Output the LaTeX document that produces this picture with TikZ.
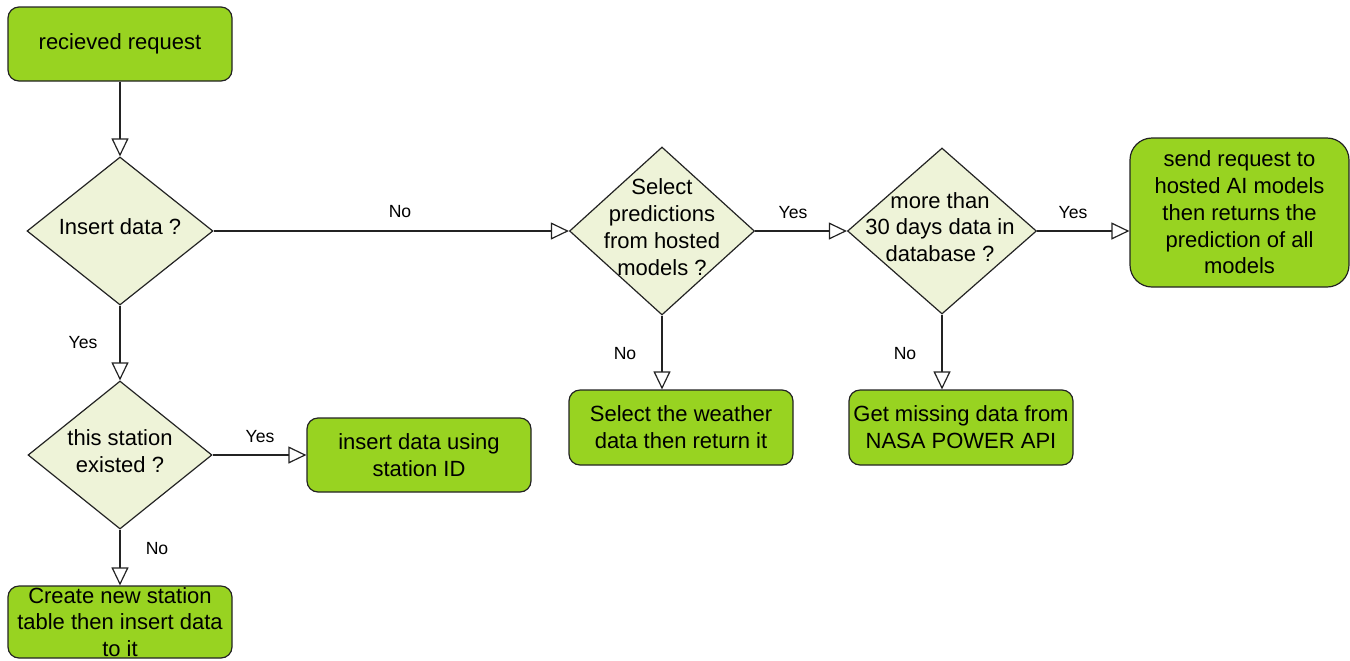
\documentclass[tikz,border=0pt]{standalone}
\usepackage{fontspec}
\setmainfont{Liberation Sans}
\usetikzlibrary{shapes.geometric,arrows.meta}

\definecolor{actfill}{RGB}{152,211,33}
\definecolor{decfill}{RGB}{238,243,216}
\definecolor{edgeline}{RGB}{35,35,35}

\tikzset{
  every node/.style={font=\fontsize{11}{13.4}\selectfont, text=black},
  action/.style={draw=edgeline, line width=0.6pt, fill=actfill, rounded corners=5.5pt,
    align=center, inner sep=0pt, minimum width=112pt, minimum height=37pt},
  decision/.style={draw=edgeline, line width=0.6pt, fill=decfill, shape=diamond,
    inner sep=0pt},
  dtext/.style={align=center, inner sep=0pt},
  lbl/.style={font=\fontsize{8.8}{10}\selectfont, inner sep=0pt},
  flow/.style={draw=edgeline, line width=0.6pt,
    -{Triangle[length=9pt, width=8.5pt, fill=white, line width=0.6pt]}},
}

\begin{document}
\begin{tikzpicture}[x=0.5pt, y=-0.5pt]
  \useasboundingbox (0,0) rectangle (1350,660);

  % action boxes
  \node[action] (start) at (120,44) {recieved request};
  \node[action] (insertId) at (419,455) {insert data using\\station ID};
  \node[action, minimum height=36pt] (newTable) at (120,622) {Create new station\\table then insert data\\to it};
  \node[action, minimum height=37.5pt] (weather) at (681,427.5) {Select the weather\\data then return it};
  \node[action, minimum height=37.5pt] (nasa) at (961,427.5) {Get missing data from\\NASA POWER API};
  \node[action, rounded corners=11pt, minimum width=109.5pt, minimum height=74.5pt]
    (aimodels) at (1239.5,212.5) {send request to\\hosted AI models\\then returns the\\prediction of all\\models};

  % decisions: diamond outline plus its centred question
  \node[decision, minimum width=93pt, minimum height=74pt] (dInsert) at (120,231) {};
  \node[dtext] (dInsertT) at (120,227) {Insert data ?};

  \node[decision, minimum width=92.5pt, minimum height=84pt] (dPred) at (662,231) {};
  \node[dtext] (dPredT) at (662,227) {Select\\predictions\\from hosted\\models ?};

  \node[decision, minimum width=94.5pt, minimum height=83pt] (dDays) at (942,231) {};
  \node[dtext] (dDaysT) at (940,227) {more than\\30 days data in\\database ?};

  \node[decision, minimum width=92pt, minimum height=74pt] (dStation) at (120,455) {};
  \node[dtext] (dStationT) at (120,451) {this station\\existed ?};

  % connectors
  \draw[flow] (start.south) -- (dInsert.north);
  \draw[flow] (dInsert.east) -- (dPred.west);
  \draw[flow] (dInsert.south) -- (dStation.north);
  \draw[flow] (dStation.east) -- (dStation.east -| insertId.west);
  \draw[flow] (dStation.south) -- (newTable.north);
  \draw[flow] (dPred.east) -- (dDays.west);
  \draw[flow] (dPred.south) -- (dPred.south |- weather.north);
  \draw[flow] (dDays.east) -- (dDays.east -| aimodels.west);
  \draw[flow] (dDays.south) -- (dDays.south |- nasa.north);

  % connector labels
  \node[lbl] (lNoPred)   at (400,212) {No};
  \node[lbl] (lYesDays)  at (793,213) {Yes};
  \node[lbl] (lYesAi)    at (1073,213) {Yes};
  \node[lbl] (lYesSt)    at (83,343) {Yes};
  \node[lbl] (lYesId)    at (260,437) {Yes};
  \node[lbl] (lNoTable)  at (157,549) {No};
  \node[lbl] (lNoWeath)  at (625,354) {No};
  \node[lbl] (lNoNasa)   at (905,354) {No};
\end{tikzpicture}
\end{document}
